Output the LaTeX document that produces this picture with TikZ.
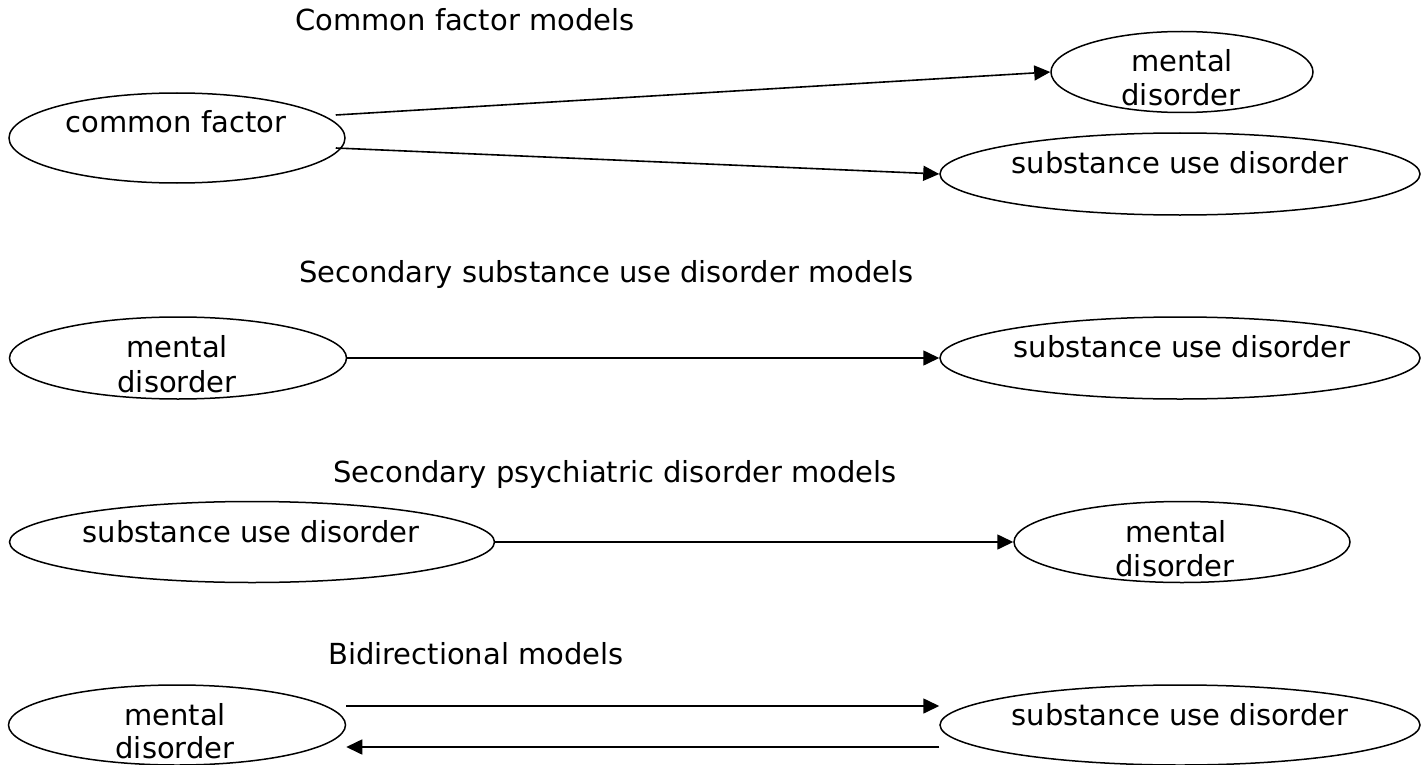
\documentclass[tikz,border=0pt]{standalone}
\usepackage{fontspec}
\setmainfont{DejaVu Sans}
\usetikzlibrary{shapes.geometric,arrows.meta,calc}
\begin{document}
\begin{tikzpicture}[x=1pt,y=-1pt,
  ell/.style={draw, ellipse, line width=1.5pt, inner sep=0pt},
  lbl/.style={anchor=base, inner sep=0pt, font=\fontsize{29}{34}\selectfont},
  ttl/.style={anchor=base west, inner sep=0pt, font=\fontsize{29}{34}\selectfont},
  arr/.style={line width=1.6pt, -{Triangle[length=16pt,width=15pt]}}]
\useasboundingbox (0,0) rectangle (1421,765);

% Row 1: Common factor models
\node[ttl] (t1) at (295,31) {Common factor models};
\node[ell, minimum width=336pt, minimum height=90pt] (cf) at (177,138) {};
\node[lbl] (cft) at (176,132) {common factor};
\node[ell, minimum width=262pt, minimum height=81pt] (md1) at (1182,72) {};
\node[lbl] (md1a) at (1182,72) {mental};
\node[lbl] (md1b) at (1181,106) {disorder};
\node[ell, minimum width=480pt, minimum height=82pt] (sud1) at (1180,174) {};
\node[lbl] (sud1t) at (1180,173) {substance use disorder};
\draw[arr] ($(cf.east)+(-10,-23)$) -- (md1.west);
\draw[arr] ($(cf.east)+(-10,10)$) -- (sud1.west);

% Row 2: Secondary substance use disorder models
\node[ttl] (t2) at (299,282) {Secondary substance use disorder models};
\node[ell, minimum width=337pt, minimum height=82pt] (md2) at (178,358) {};
\node[lbl] (md2a) at (177,357) {mental};
\node[lbl] (md2b) at (177,392) {disorder};
\node[ell, minimum width=480pt, minimum height=82pt] (sud2) at (1180,358) {};
\node[lbl] (sud2t) at (1182,357) {substance use disorder};
\draw[arr] (md2.east) -- (sud2.west);

% Row 3: Secondary psychiatric disorder models
\node[ttl] (t3) at (333,482) {Secondary psychiatric disorder models};
\node[ell, minimum width=485pt, minimum height=81pt] (sud3) at (252,542) {};
\node[lbl] (sud3t) at (251,542) {substance use disorder};
\node[ell, minimum width=336pt, minimum height=81pt] (md3) at (1182,542) {};
\node[lbl] (md3a) at (1176,542) {mental};
\node[lbl] (md3b) at (1175,576) {disorder};
\draw[arr] (sud3.east) -- (md3.west);

% Row 4: Bidirectional models
\node[ttl] (t4) at (328,664) {Bidirectional models};
\node[ell, minimum width=337pt, minimum height=80pt] (md4) at (177,725) {};
\node[lbl] (md4a) at (175,725) {mental};
\node[lbl] (md4b) at (175,758) {disorder};
\node[ell, minimum width=480pt, minimum height=80pt] (sud4) at (1180,725) {};
\node[lbl] (sud4t) at (1180,725) {substance use disorder};
\draw[arr] ($(md4.east)+(0,-19)$) -- ($(sud4.west)+(0,-19)$);
\draw[arr] ($(sud4.west)+(0,22)$) -- ($(md4.east)+(0,22)$);
\end{tikzpicture}
\end{document}
